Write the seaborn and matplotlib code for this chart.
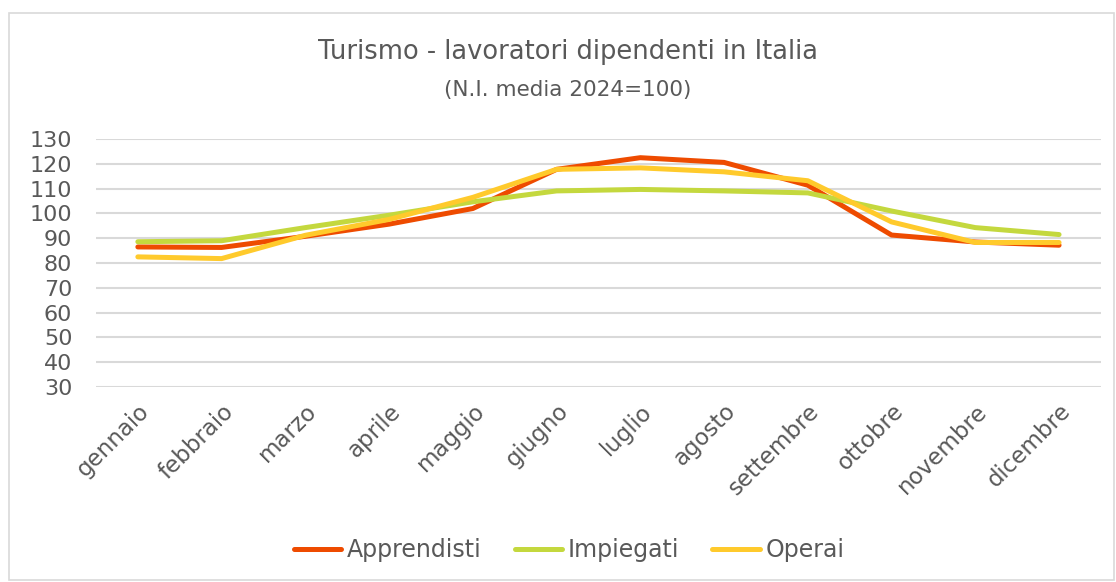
import pandas as pd
import matplotlib.pyplot as plt
import seaborn as sns
from matplotlib.patches import Rectangle

mesi = ['gennaio', 'febbraio', 'marzo', 'aprile', 'maggio', 'giugno',
        'luglio', 'agosto', 'settembre', 'ottobre', 'novembre', 'dicembre']
apprendisti = [86.5, 86.3, 90.8, 95.7, 102.0, 117.8, 122.5, 120.6, 111.4, 91.3, 88.5, 87.2]
impiegati = [88.6, 89.0, 94.3, 99.3, 104.7, 109.1, 109.7, 109.1, 108.3, 101.0, 94.3, 91.5]
operai = [82.5, 81.8, 91.2, 97.6, 106.5, 117.8, 118.4, 116.8, 113.2, 96.6, 88.3, 88.3]

df = pd.DataFrame({
    'mese': mesi * 3,
    'valore': apprendisti + impiegati + operai,
    'serie': ['Apprendisti'] * 12 + ['Impiegati'] * 12 + ['Operai'] * 12,
})

colori = {'Apprendisti': '#EE4B00', 'Impiegati': '#C4D83E', 'Operai': '#FFCA2C'}
grigio = '#595959'

sns.set_style('white')
plt.rcParams['font.family'] = ['DejaVu Sans']

fig = plt.figure(figsize=(11.16, 5.82), dpi=100)
ax = fig.add_axes([0.086, 0.335, 0.9005, 0.426])

sns.lineplot(data=df, x='mese', y='valore', hue='serie', palette=colori,
             linewidth=3.6, sort=False, ax=ax)

ax.set_xlim(-0.5, 11.5)
ax.set_ylim(30, 130)
ax.set_yticks(range(30, 131, 10))
ax.grid(axis='y', color='#D9D9D9', linewidth=1.5)
ax.set_axisbelow(True)
for s in ax.spines.values():
    s.set_visible(False)
ax.tick_params(axis='both', length=0, colors=grigio, labelsize=16)
ax.tick_params(axis='x', labelsize=16.5, pad=9)
ax.tick_params(axis='y', pad=17)
ax.set_xlabel('')
ax.set_ylabel('')
plt.setp(ax.get_xticklabels(), rotation=45, ha='right', rotation_mode='anchor')

fig.text(0.509, 0.91, 'Turismo - lavoratori dipendenti in Italia', ha='center', va='center',
         fontsize=18.5, color=grigio)
fig.text(0.509, 0.845, '(N.I. media 2024=100)', ha='center', va='center',
         fontsize=15.5, color=grigio)

ax.legend(loc='center', bbox_to_anchor=(0.51, 0.055), bbox_transform=fig.transFigure,
          ncol=3, frameon=False, fontsize=17, handlelength=2.0, handletextpad=0.25,
          columnspacing=1.4, labelcolor=grigio)

fig.patches.append(Rectangle((0.008, 0.004), 0.99, 0.974, transform=fig.transFigure,
                             fill=False, edgecolor='#D9D9D9', linewidth=1.2))

fig.savefig('out.png', dpi=100, facecolor='white')
